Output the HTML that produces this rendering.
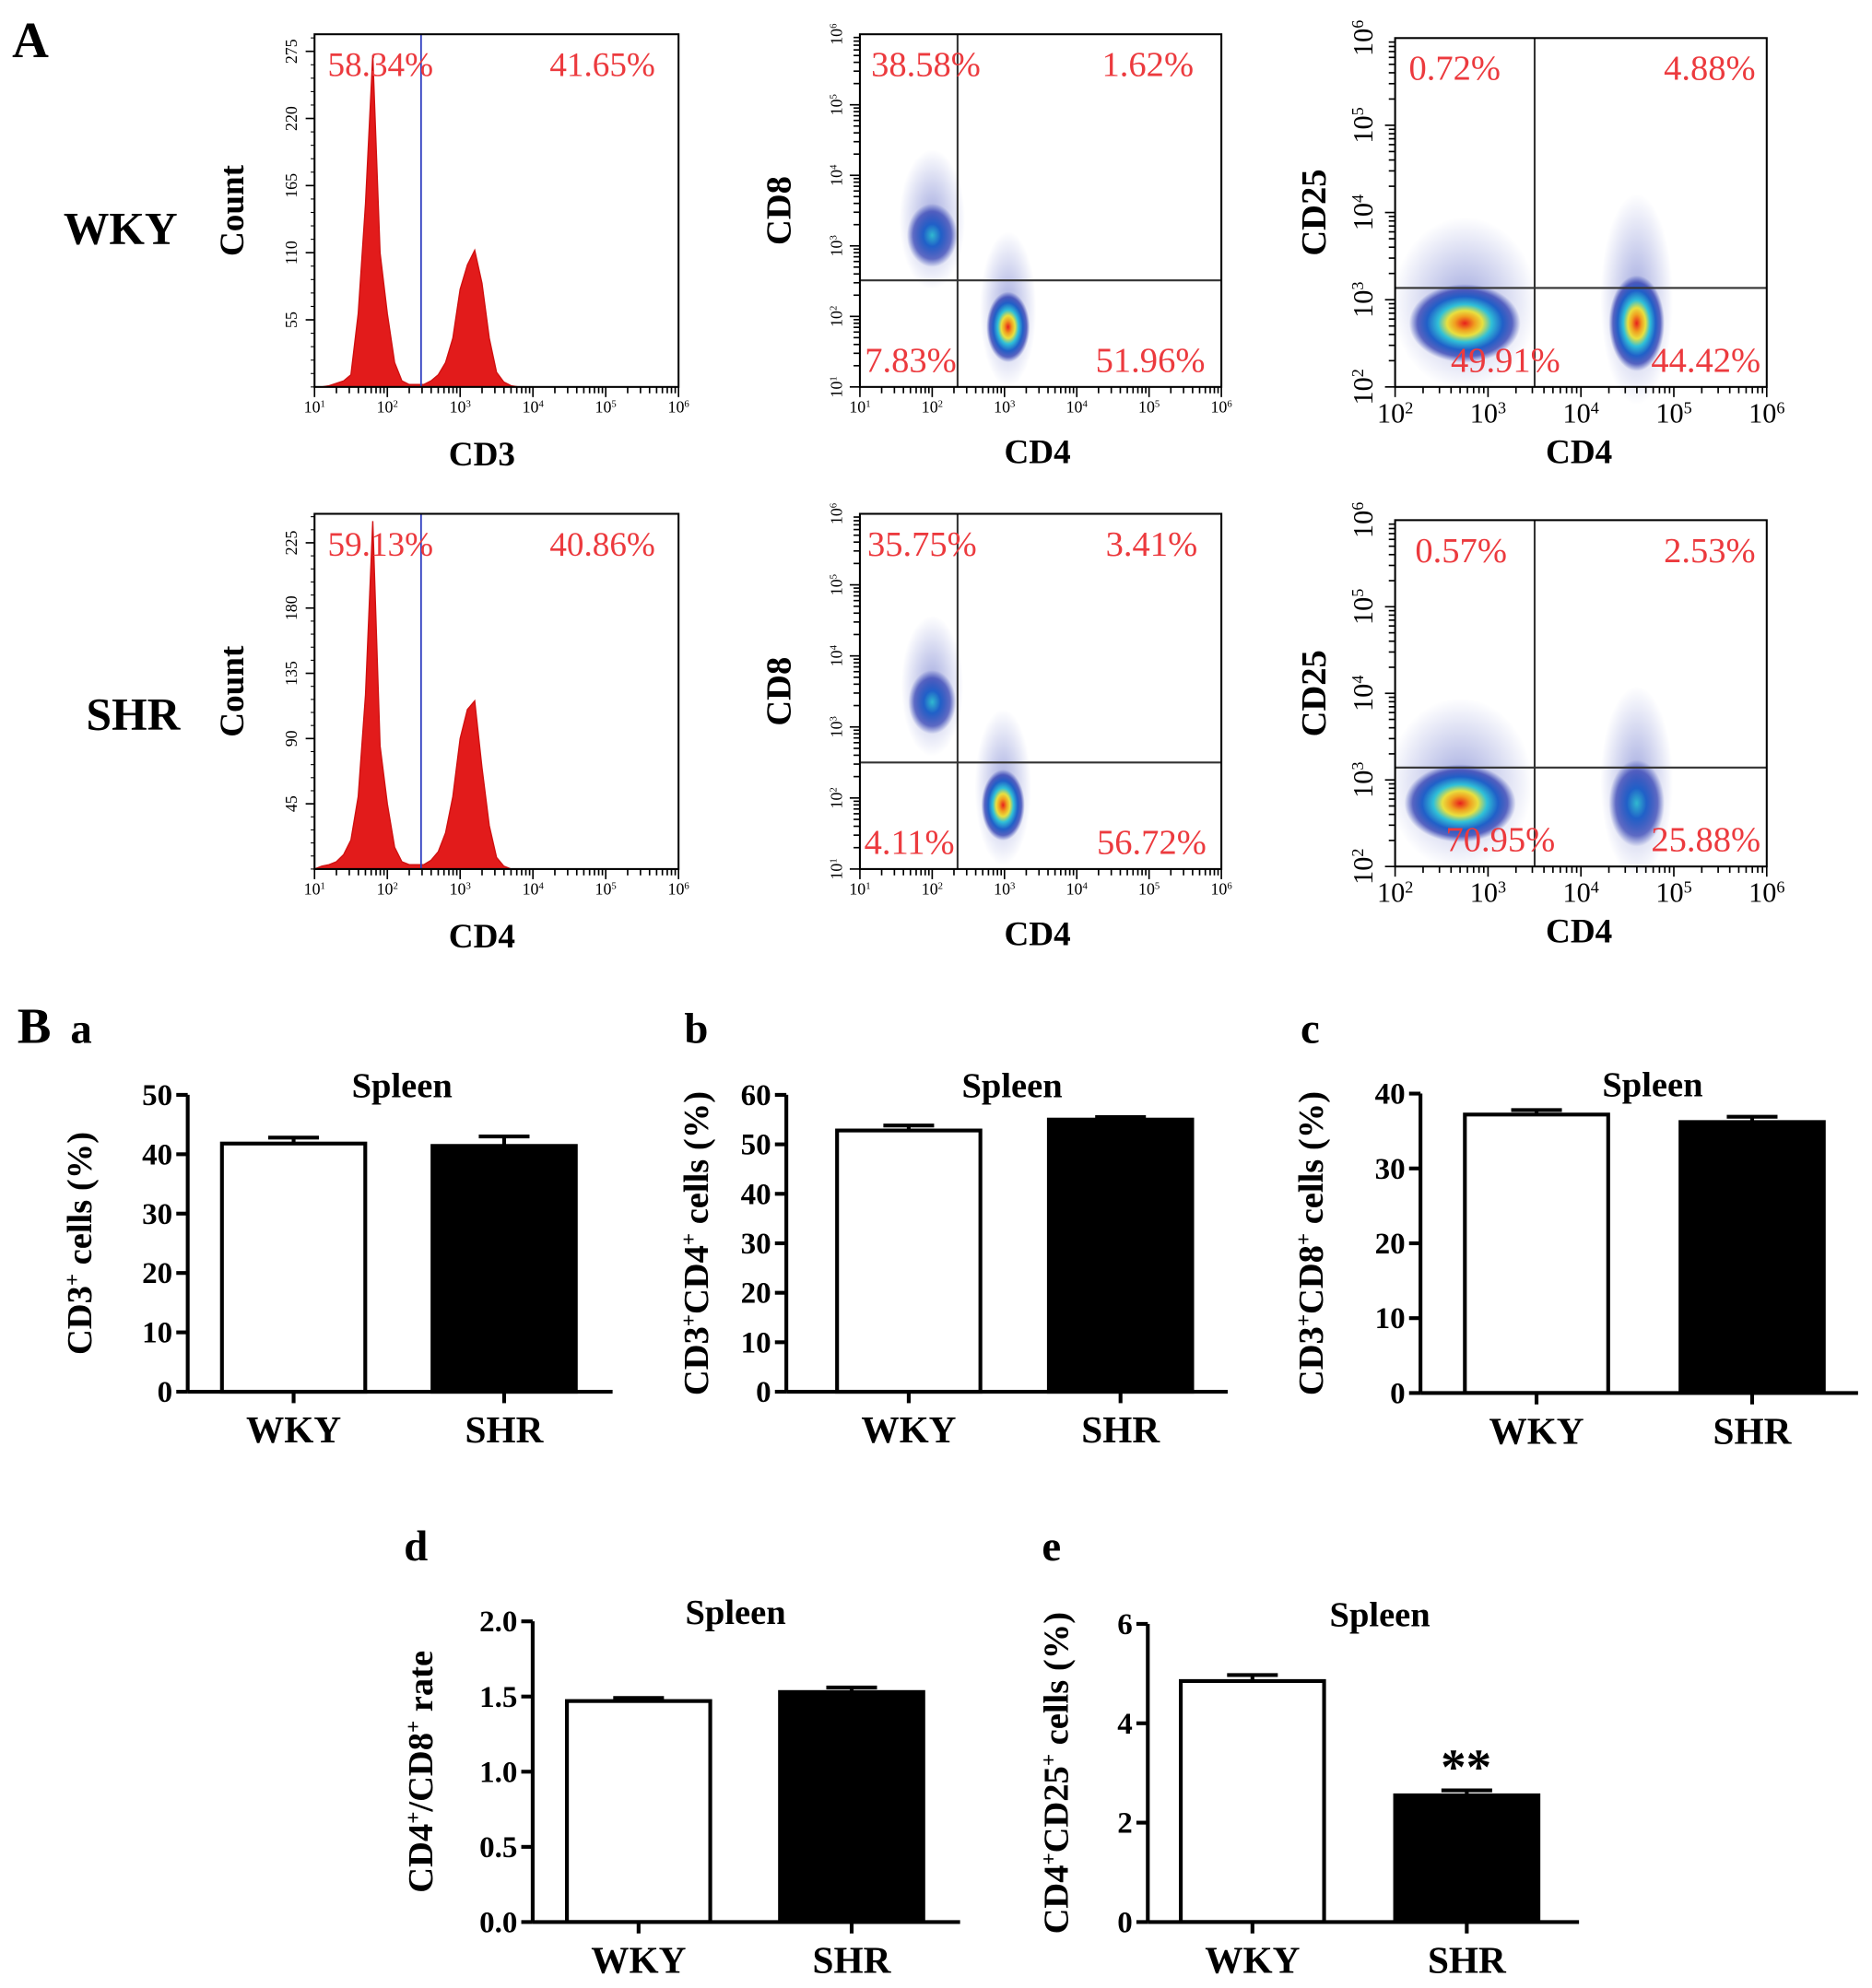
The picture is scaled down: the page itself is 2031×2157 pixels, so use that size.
<!DOCTYPE html>
<html><head><meta charset="utf-8">
<style>
html,body{margin:0;padding:0;background:#fff;}
svg{display:block;}
text{font-family:"Liberation Serif",serif;}
</style></head>
<body>
<svg id="fig" xmlns="http://www.w3.org/2000/svg" width="2031" height="2157" viewBox="0 0 1476 1567" preserveAspectRatio="none">
<defs>
<radialGradient id="dens">
<stop offset="0" stop-color="#e8201c"/>
<stop offset="0.18" stop-color="#f0a020"/>
<stop offset="0.32" stop-color="#e8e040"/>
<stop offset="0.48" stop-color="#30c0d8"/>
<stop offset="0.68" stop-color="#2060c8"/>
<stop offset="0.85" stop-color="#2a3ab0" stop-opacity="0.75"/>
<stop offset="1" stop-color="#3040b0" stop-opacity="0"/>
</radialGradient>
<radialGradient id="densLow">
<stop offset="0" stop-color="#30b8d0"/>
<stop offset="0.35" stop-color="#2060c8"/>
<stop offset="0.75" stop-color="#2a3ab0" stop-opacity="0.7"/>
<stop offset="1" stop-color="#3040b0" stop-opacity="0"/>
</radialGradient>
<radialGradient id="sparse">
<stop offset="0" stop-color="#3040b8" stop-opacity="0.45"/>
<stop offset="1" stop-color="#3040b8" stop-opacity="0"/>
</radialGradient>
</defs>
</svg>
<script>
// ===== Histogram data (log10 bins 1.0..3.8 step 0.1) =====
const histBins = [1.0,1.1,1.2,1.3,1.4,1.5,1.6,1.7,1.8,1.9,2.0,2.1,2.2,2.3,2.4,2.5,2.6,2.7,2.8,2.9,3.0,3.1,3.2,3.3,3.4,3.5,3.6,3.7,3.8];
const histWKY = [0,0,1,3,5,10,60,150,272,110,60,20,5,2,2,2,5,10,20,40,80,100,112,85,40,12,4,1,0];
const histSHR = [0,2,3,5,10,20,50,120,240,85,45,15,5,3,3,3,6,12,25,50,90,110,116,70,30,8,2,0,0];
const histTicksWKY = [55,110,165,220,275];
const histTicksSHR = [45,90,135,180,225];
const histPctWKY = ["58.34%","41.65%"];
const histPctSHR = ["59.13%","40.86%"];
// ===== Dot plot data (CD8 vs CD4): clusters [logX, logY, rx(decades), ry(decades), intensity] =====
const cd8WKY = [[2.0,3.15,0.35,0.45,0.6],[3.05,1.85,0.3,0.5,1.0]];
const cd8SHR = [[2.0,3.35,0.33,0.45,0.65],[2.98,1.9,0.3,0.5,0.95]];
const cd8PctWKY = ["38.58%","1.62%","7.83%","51.96%"];
const cd8PctSHR = ["35.75%","3.41%","4.11%","56.72%"];
// ===== Dot plot data (CD25 vs CD4) =====
const cd25WKY = [[2.75,2.73,0.6,0.45,0.9],[4.6,2.73,0.3,0.55,1.0]];
const cd25SHR = [[2.7,2.73,0.6,0.45,1.0],[4.6,2.73,0.3,0.5,0.8]];
const cd25PctWKY = ["0.72%","4.88%","49.91%","44.42%"];
const cd25PctSHR = ["0.57%","2.53%","70.95%","25.88%"];
// ===== Bar chart data =====
const barCats = ["WKY","SHR"];
const barA = [41.8,41.4]; const errA = [1.0,1.6]; const ticksA = [0,10,20,30,40,50];
const barB = [52.8,55.0]; const errB = [1.0,0.5]; const ticksB = [0,10,20,30,40,50,60];
const barC = [37.2,36.2]; const errC = [0.6,0.7]; const ticksC = [0,10,20,30,40];
const barD = [1.47,1.53]; const errD = [0.02,0.03]; const ticksD = [0.0,0.5,1.0,1.5,2.0];
const barE = [4.85,2.55]; const errE = [0.12,0.1]; const ticksE = [0,2,4,6];

const NS="http://www.w3.org/2000/svg";
const svg=document.getElementById('fig');
function mk(tag,attrs,parent){const e=document.createElementNS(NS,tag);for(const k in attrs)e.setAttribute(k,attrs[k]);(parent||svg).appendChild(e);return e;}
function txt(s,x,y,size,opts,parent){opts=opts||{};const t=mk('text',{x:x,y:y,'font-size':size,'text-anchor':opts.anchor||'middle','font-weight':opts.bold?'bold':'normal',fill:opts.fill||'#000'},parent);if(opts.rot)t.setAttribute('transform','rotate('+opts.rot+' '+x+' '+y+')');t.textContent=s;return t;}
function sup(t,base,s){const a=document.createElementNS(NS,'tspan');a.textContent=base;t.appendChild(a);const b=document.createElementNS(NS,'tspan');b.setAttribute('baseline-shift','super');b.setAttribute('font-size','60%');b.textContent=s;t.appendChild(b);}

// big labels
let t;
t=txt("A",24,45,40,{bold:true});
t=txt("WKY",95,192,36,{bold:true});
t=txt("SHR",105,575,36,{bold:true});

function logTicksX(g,x0,x1,y,dec0,dec1,big){
  const per=(x1-x0)/(dec1-dec0);
  for(let d=dec0;d<dec1;d++){for(let m=1;m<10;m++){const x=x0+(d-dec0+Math.log10(m))*per;mk('line',{x1:x,x2:x,y1:y,y2:y+(m==1?8:5),stroke:'#000','stroke-width':1.2},g);}}
  mk('line',{x1:x1,x2:x1,y1:y,y2:y+8,stroke:'#000','stroke-width':1.2},g);
  for(let d=dec0;d<=dec1;d++){const x=x0+(d-dec0)*per;const tt=mk('text',{x:x,y:y+(big?28:20),'font-size':big?22:13,'text-anchor':'middle','font-family':'Liberation Sans, sans-serif'},g);sup(tt,'10',''+d);}
}
function logTicksY(g,x,y0,y1,dec0,dec1,big){
  const per=(y0-y1)/(dec1-dec0);
  for(let d=dec0;d<dec1;d++){for(let m=1;m<10;m++){const y=y0-(d-dec0+Math.log10(m))*per;mk('line',{x1:x,x2:x-(m==1?8:5),y1:y,y2:y,stroke:'#000','stroke-width':1.2},g);}}
  for(let d=dec0;d<=dec1;d++){const y=y0-(d-dec0)*per;const xx=x-(big?18:14);const tt=mk('text',{x:xx,y:y,'font-size':big?22:13,'text-anchor':'middle','font-family':'Liberation Sans, sans-serif',transform:'rotate(-90 '+xx+' '+y+')'},g);sup(tt,'10',''+d);}
}

function histogram(name,box,data,ticks,ymax,pct,xlab){
  const g=mk('g',{});
  
  
  const [x0,y0,x1,y1]=box;
  const sx=v=>x0+(v-1)*(x1-x0)/5;
  const sy=v=>y1-v*(y1-y0)/ymax;
  let d='M'+sx(histBins[0])+','+y1;
  for(let i=0;i<histBins.length;i++){d+=' L'+sx(histBins[i])+','+sy(data[i]);}
  d+=' L'+sx(histBins[histBins.length-1])+','+y1+' Z';
  const p=mk('path',{d:d,fill:'#e21b1b',stroke:'#d01010','stroke-width':1},g);
  
  
  mk('line',{x1:332,x2:332,y1:y0,y2:y1,stroke:'#3040c0','stroke-width':1.3},g);
  mk('rect',{x:x0,y:y0,width:x1-x0,height:y1-y0,fill:'none',stroke:'#000','stroke-width':1.5},g);
  ticks.forEach(v=>{const y=sy(v);mk('line',{x1:x0,x2:x0-7,y1:y,y2:y,stroke:'#000','stroke-width':1.2},g);const xx=x0-14;mk('text',{x:xx,y:y,'font-size':13,'text-anchor':'middle','font-family':'Liberation Sans, sans-serif',transform:'rotate(-90 '+xx+' '+y+')'},g).textContent=v;});
  for(let v=0;v<ymax;v+=ticks[0]/5){const y=sy(v);mk('line',{x1:x0,x2:x0-3,y1:y,y2:y,stroke:'#000','stroke-width':0.8},g);}
  logTicksX(g,x0,x1,y1,1,6,false);
  txt(pct[0],300,y0+33,27,{fill:'#ec3a3e'},g);
  txt(pct[1],475,y0+33,27,{fill:'#ec3a3e'},g);
  txt('Count',192,(y0+y1)/2,27,{bold:true,rot:-90},g);
  txt(xlab,380,y1+62,27,{bold:true},g);
}
histogram('histogram-cd3-wky',[248,27,535,305],histWKY,histTicksWKY,289,histPctWKY,'CD3');
histogram('histogram-cd4-shr',[248,405,535,685],histSHR,histTicksSHR,245,histPctSHR,'CD4');

function dotplot(name,box,dec0,qx,qy,clusters,pct,ylab,big,lpos){
  const g=mk('g',{});
  
  
  const [x0,y0,x1,y1]=box;
  const px=(x1-x0)/(6-dec0), py=(y1-y0)/(6-dec0);
  const sx=v=>x0+(v-dec0)*px, sy=v=>y1-(v-dec0)*py;
  clusters.forEach((c,i)=>{
    const cx=sx(c[0]),cy=sy(c[1]);
    const halo=mk('ellipse',{cx:cx,cy:cy-c[3]*py*0.5,rx:c[2]*px*1.3,ry:c[3]*py*2.2,fill:'url(#sparse)'},g);
    
    
    const e=mk('ellipse',{cx:cx,cy:cy,rx:c[2]*px,ry:c[3]*py,fill:c[4]>0.8?'url(#dens)':'url(#densLow)'},g);
    
    
  });
  mk('line',{x1:qx,x2:qx,y1:y0,y2:y1,stroke:'#333','stroke-width':1.5},g);
  mk('line',{x1:x0,x2:x1,y1:qy,y2:qy,stroke:'#333','stroke-width':1.5},g);
  mk('rect',{x:x0,y:y0,width:x1-x0,height:y1-y0,fill:'none',stroke:'#000','stroke-width':1.5},g);
  logTicksX(g,x0,x1,y1,dec0,6,big);
  logTicksY(g,x0,y1,y0,dec0,6,big);
  const f=28;
  txt(pct[0],lpos[0],y0+33,f,{fill:'#ec3a3e'},g);
  txt(pct[1],lpos[1],y0+33,f,{fill:'#ec3a3e'},g);
  txt(pct[2],lpos[2],y1-12,f,{fill:'#ec3a3e'},g);
  txt(pct[3],lpos[3],y1-12,f,{fill:'#ec3a3e'},g);
  txt(ylab,big?1045:623,(y0+y1)/2,28,{bold:true,rot:-90},g);
  txt('CD4',big?1245:818,y1+60,27,{bold:true},g);
}
dotplot('dotplot-cd8-cd4-wky',[678,27,963,305],1,755,221,cd8WKY,cd8PctWKY,'CD8',false,[730,905,718,907]);
dotplot('dotplot-cd8-cd4-shr',[678,405,963,685],1,755,601,cd8SHR,cd8PctSHR,'CD8',false,[727,908,717,908]);
dotplot('dotplot-cd25-cd4-wky',[1100,30,1393,305],2,1210,227,cd25WKY,cd25PctWKY,'CD25',true,[1147,1348,1187,1345]);
dotplot('dotplot-cd25-cd4-shr',[1100,410,1393,683],2,1210,605,cd25SHR,cd25PctSHR,'CD25',true,[1152,1348,1183,1345]);

t=txt("B",27,822,40,{bold:true});

function barChart(name,letter,lx,ly,ax,yTop,y0,bx,xEnd,vals,errs,ticks,ylabParts,ylx,titleX,star,dec){
  const g=mk('g',{});
  
  
  txt(letter,lx,ly,34,{bold:true},g);
  const ymax=ticks[ticks.length-1];
  const sy=v=>y0-v*(y0-yTop)/ymax;
  txt('Spleen',titleX,yTop+2,28,{bold:true},g);
  ticks.forEach(v=>{const y=sy(v);mk('line',{x1:ax,x2:ax-9,y1:y,y2:y,stroke:'#000','stroke-width':3},g);txt(dec?v.toFixed(1):''+v,ax-12,y+8,24,{bold:true,anchor:'end'},g);});
  vals.forEach((v,i)=>{
    const bw=113, x=bx[i];
    const y=sy(v), ye=sy(v+errs[i]);
    const cx=x+bw/2;
    mk('line',{x1:cx,x2:cx,y1:y,y2:ye,stroke:'#000','stroke-width':3},g);
    mk('line',{x1:cx-20,x2:cx+20,y1:ye,y2:ye,stroke:'#000','stroke-width':3},g);
    const r=mk('rect',{x:x,y:y,width:bw,height:y0-y,fill:i==0?'#fff':'#000',stroke:'#000','stroke-width':3},g);
    
    
    mk('line',{x1:cx,x2:cx,y1:y0,y2:y0+9,stroke:'#000','stroke-width':3},g);
    txt(barCats[i],cx,y0+40,30,{bold:true},g);
  });
  mk('line',{x1:ax,x2:ax,y1:yTop,y2:y0,stroke:'#000','stroke-width':3},g);
  mk('line',{x1:ax,x2:xEnd,y1:y0,y2:y0,stroke:'#000','stroke-width':3},g);
  const yl=txt('',ylx,(yTop+y0)/2,28,{bold:true,rot:-90},g);
  
  ylabParts.forEach(p=>{const a=document.createElementNS(NS,'tspan');a.textContent=p[0];if(p[1]){a.setAttribute('baseline-shift','super');a.setAttribute('font-size','60%');}yl.appendChild(a);});
  if(star){txt('**',bx[1]+56,sy(vals[1]+errs[1])-5,40,{bold:true},g);}
}
barChart('bar-chart-cd3','a',64,822,148,863,1097,[175,341],483,barA,errA,ticksA,[['CD3',0],['+',1],[' cells (%)',0]],72,317,false,false);
barChart('bar-chart-cd3-cd4','b',549,822,620,863,1097,[660,827],968,barB,errB,ticksB,[['CD3',0],['+',1],['CD4',0],['+',1],[' cells (%)',0]],558,798,false,false);
barChart('bar-chart-cd3-cd8','c',1033,822,1120,862,1098,[1155,1325],1465,barC,errC,ticksC,[['CD3',0],['+',1],['CD8',0],['+',1],[' cells (%)',0]],1043,1303,false,false);
barChart('bar-chart-cd4-cd8-rate','d',328,1230,420,1278,1515,[447,615],757,barD,errD,ticksD,[['CD4',0],['+',1],['/CD8',0],['+',1],[' rate',0]],341,580,false,true);
barChart('bar-chart-cd4-cd25','e',829,1230,905,1280,1515,[931,1100],1245,barE,errE,ticksE,[['CD4',0],['+',1],['CD25',0],['+',1],[' cells (%)',0]],842,1088,true,false);
</script>
</body></html>
